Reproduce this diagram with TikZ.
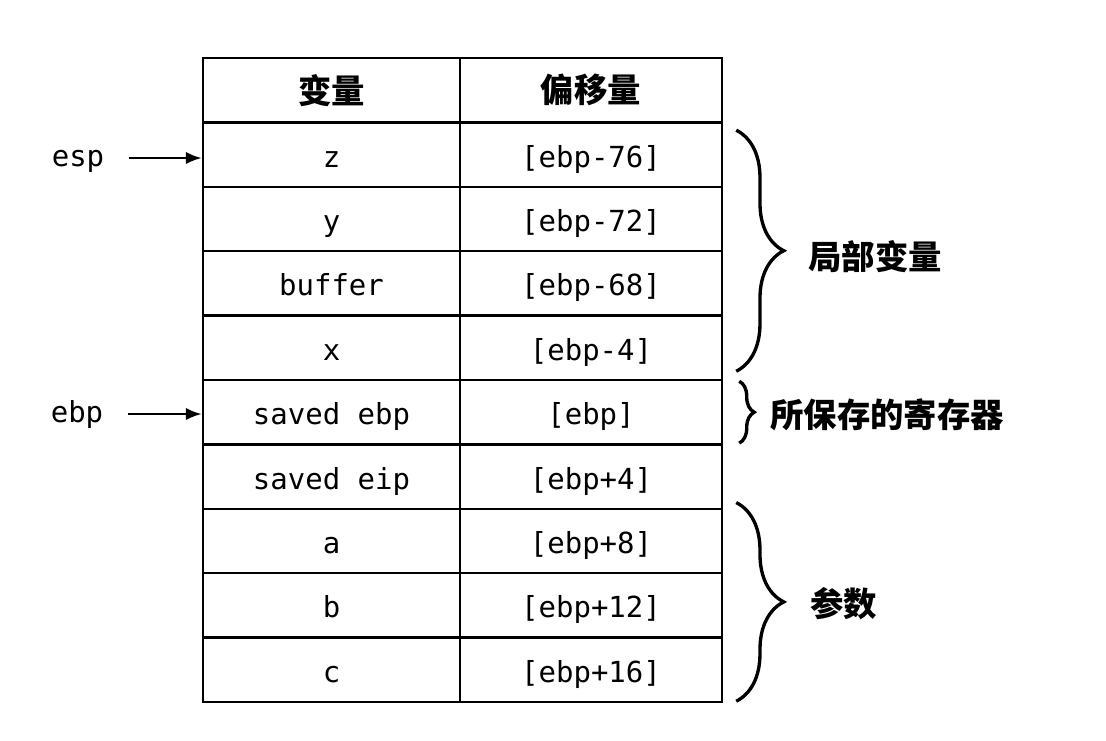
\documentclass[tikz,border=0pt]{standalone}
\usepackage{fontspec}
\setmonofont{DejaVu Sans Mono}
\newfontfamily\cjk{Noto Sans CJK SC}
\usetikzlibrary{arrows.meta,decorations.pathreplacing}
\tikzset{
	cell/.style={draw, line width=1.4pt, inner sep=0pt, minimum height=1.288cm,
		text height=0.6cm, text depth=0.1cm, font=\ttfamily\fontsize{16.5}{18}\selectfont},
	lcell/.style={cell, minimum width=5.14cm},
	rcell/.style={cell, minimum width=5.24cm},
	head/.style={font=\cjk\bfseries\fontsize{19}{22}\selectfont},
	reg/.style={font=\ttfamily\fontsize{16.5}{18}\selectfont, inner sep=1pt,
		text height=0.44cm, text depth=0.1cm},
	ptr/.style={-{Latex[length=9pt,width=7pt]}, line width=1.4pt},
	brace/.style={decorate, decoration={brace, amplitude=#1}, line width=1.9pt},
	grp/.style={font=\cjk\bfseries\fontsize{19}{22}\selectfont, anchor=west, inner sep=0pt}
}
\begin{document}
\begin{tikzpicture}
	\useasboundingbox (0,0) rectangle (22.12,-14.8);
	\node[lcell] (h1) at (6.63, -1.804) {};
	\node[rcell] (h2) at (11.82, -1.804) {};
	\node[head] (t1) at (h1) {变量};
	\node[head] (t2) at (h2) {偏移量};
	\node[lcell] (z) at (6.63, -3.092) {z};
	\node[rcell] (zo) at (11.82, -3.092) {[ebp-76]};
	\node[lcell] (y) at (6.63, -4.38) {y};
	\node[rcell] (yo) at (11.82, -4.38) {[ebp-72]};
	\node[lcell] (buf) at (6.63, -5.668) {buffer};
	\node[rcell] (bufo) at (11.82, -5.668) {[ebp-68]};
	\node[lcell] (x) at (6.63, -6.956) {x};
	\node[rcell] (xo) at (11.82, -6.956) {[ebp-4]};
	\node[lcell] (sebp) at (6.63, -8.244) {saved ebp};
	\node[rcell] (sebpo) at (11.82, -8.244) {[ebp]};
	\node[lcell] (seip) at (6.63, -9.532) {saved eip};
	\node[rcell] (seipo) at (11.82, -9.532) {[ebp+4]};
	\node[lcell] (a) at (6.63, -10.82) {a};
	\node[rcell] (ao) at (11.82, -10.82) {[ebp+8]};
	\node[lcell] (b) at (6.63, -12.108) {b};
	\node[rcell] (bo) at (11.82, -12.108) {[ebp+12]};
	\node[lcell] (c) at (6.63, -13.396) {c};
	\node[rcell] (co) at (11.82, -13.396) {[ebp+16]};
	% stack registers
	\node[reg] (esp) at (1.56, -3.16) {esp};
	\node[reg] (ebp) at (1.54, -8.28) {ebp};
	\draw[ptr, shorten <=0.45cm] (esp.east) -- (esp.east -| z.west);
	\draw[ptr, shorten <=0.45cm] (ebp.east) -- (ebp.east -| sebp.west);
	% groups
	\draw[brace=0.95cm] ([xshift=0.26cm, yshift=-0.18cm]zo.north east) -- ([xshift=0.26cm, yshift=0.2cm]xo.south east);
	\draw[brace=0.3cm] ([xshift=0.32cm, yshift=-0.05cm]sebpo.north east) -- ([xshift=0.32cm, yshift=0.05cm]sebpo.south east);
	\draw[brace=0.95cm] ([xshift=0.26cm, yshift=0.1cm]ao.north east) -- ([xshift=0.26cm, yshift=0.04cm]co.south east);
	\node[grp] (loc) at (16.16, -5.14) {局部变量};
	\node[grp] (sav) at (15.4, -8.3) {所保存的寄存器};
	\node[grp] (par) at (16.2, -12.08) {参数};
\end{tikzpicture}
\end{document}
